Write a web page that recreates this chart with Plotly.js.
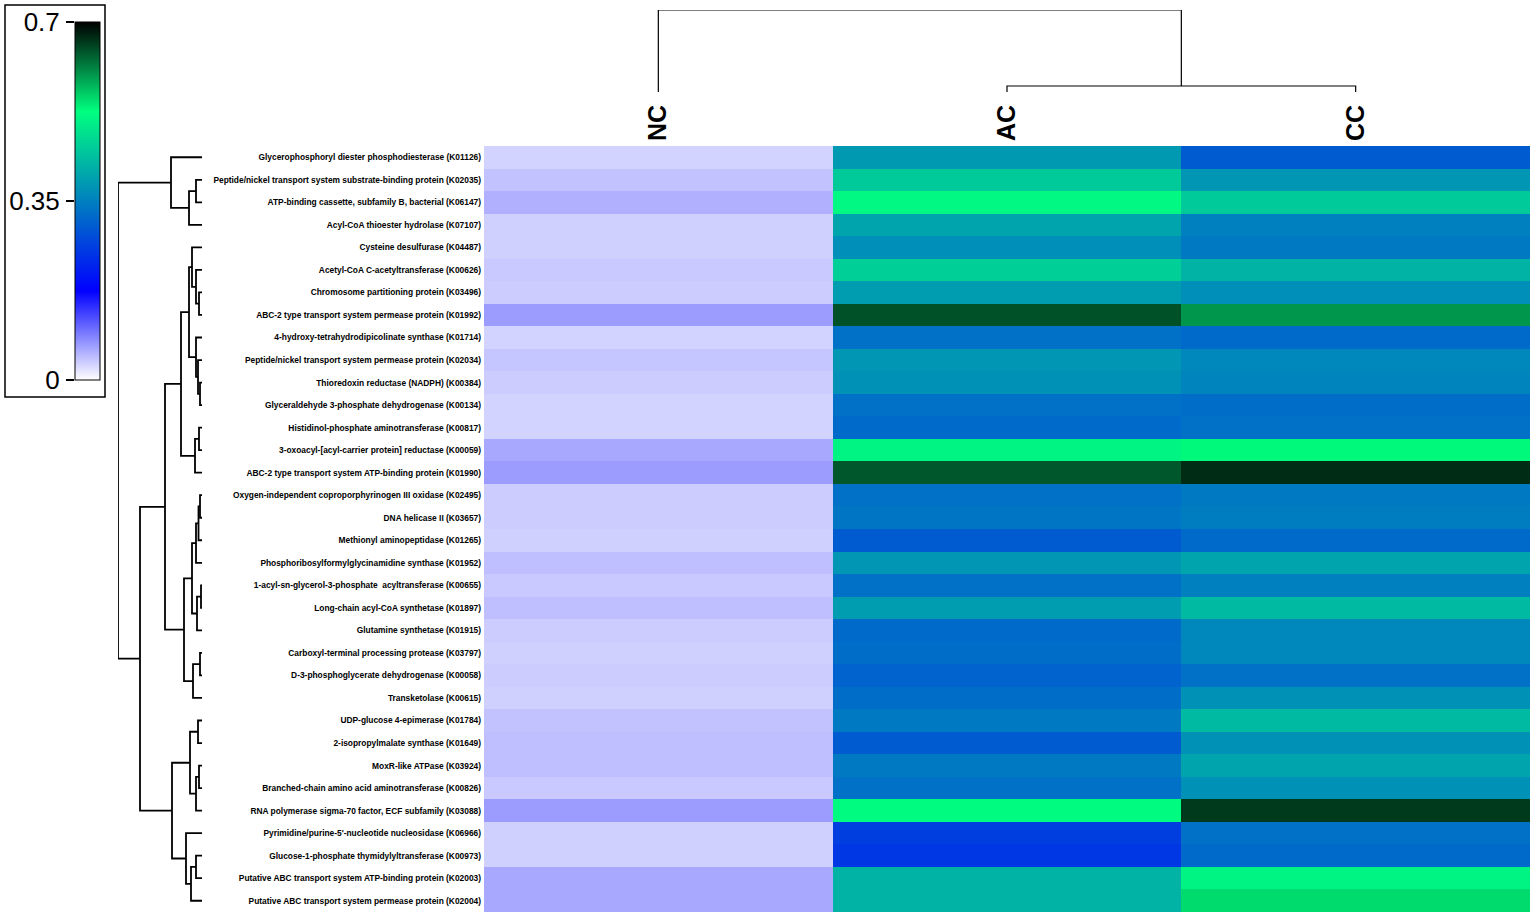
<!DOCTYPE html>
<html>
<head>
<meta charset="utf-8">
<script src="https://cdn.plot.ly/plotly-3.0.1.min.js"></script>
<style>html,body{margin:0;padding:0;background:#fff;}#chart{width:1535px;height:918px;}</style>
</head>
<body>
<div id="chart"></div>
<script>
const rowLabels = [
  "Glycerophosphoryl diester phosphodiesterase (K01126)",
  "Peptide/nickel transport system substrate-binding protein (K02035)",
  "ATP-binding cassette, subfamily B, bacterial (K06147)",
  "Acyl-CoA thioester hydrolase (K07107)",
  "Cysteine desulfurase (K04487)",
  "Acetyl-CoA C-acetyltransferase (K00626)",
  "Chromosome partitioning protein (K03496)",
  "ABC-2 type transport system permease protein (K01992)",
  "4-hydroxy-tetrahydrodipicolinate synthase (K01714)",
  "Peptide/nickel transport system permease protein (K02034)",
  "Thioredoxin reductase (NADPH) (K00384)",
  "Glyceraldehyde 3-phosphate dehydrogenase (K00134)",
  "Histidinol-phosphate aminotransferase (K00817)",
  "3-oxoacyl-[acyl-carrier protein] reductase (K00059)",
  "ABC-2 type transport system ATP-binding protein (K01990)",
  "Oxygen-independent coproporphyrinogen III oxidase (K02495)",
  "DNA helicase II (K03657)",
  "Methionyl aminopeptidase (K01265)",
  "Phosphoribosylformylglycinamidine synthase (K01952)",
  "1-acyl-sn-glycerol-3-phosphate  acyltransferase (K00655)",
  "Long-chain acyl-CoA synthetase (K01897)",
  "Glutamine synthetase (K01915)",
  "Carboxyl-terminal processing protease (K03797)",
  "D-3-phosphoglycerate dehydrogenase (K00058)",
  "Transketolase (K00615)",
  "UDP-glucose 4-epimerase (K01784)",
  "2-isopropylmalate synthase (K01649)",
  "MoxR-like ATPase (K03924)",
  "Branched-chain amino acid aminotransferase (K00826)",
  "RNA polymerase sigma-70 factor, ECF subfamily (K03088)",
  "Pyrimidine/purine-5'-nucleotide nucleosidase (K06966)",
  "Glucose-1-phosphate thymidylyltransferase (K00973)",
  "Putative ABC transport system ATP-binding protein (K02003)",
  "Putative ABC transport system permease protein (K02004)"
];
const colLabels = ["NC", "AC", "CC"];

const ncValues = [0.030,0.042,0.054,0.032,0.032,0.037,0.035,0.068,0.030,0.040,0.035,0.030,0.030,0.060,0.068,0.035,0.035,0.032,0.044,0.037,0.044,0.035,0.032,0.035,0.032,0.042,0.044,0.044,0.037,0.068,0.032,0.032,0.060,0.060];
const acValues = [0.385,0.45,0.515,0.40,0.37,0.46,0.39,0.645,0.33,0.38,0.375,0.33,0.32,0.51,0.64,0.33,0.335,0.30,0.38,0.33,0.39,0.32,0.325,0.31,0.325,0.34,0.30,0.34,0.33,0.52,0.26,0.25,0.42,0.42];
const ccValues = [0.30,0.38,0.45,0.35,0.34,0.42,0.37,0.597,0.32,0.36,0.355,0.325,0.33,0.53,0.67,0.34,0.345,0.32,0.40,0.35,0.43,0.36,0.36,0.33,0.375,0.43,0.375,0.40,0.375,0.66,0.33,0.32,0.51,0.55];

// Row clustering tree: [left, right, mergeHeight]; leaves are row indices
const rowTree = [[0, [[1,2,6],3,13], 31],
  [[[[[4,[5,[6,7,3],6],10],[8,[9,[10,11,2],4],6],13],[[12,13,3],14,7],21],
    [[[[[15,16,2],17,3.5],18,6],[[19,20,1],21,5],10],[[22,23,2],24,9],18],37],
   [[[25,26,4],[[27,28,3],29,6],12],[30,[[31,32,6],33,11],16],30],62],84];
// Column clustering tree
const colTree = [0, [1, 2, 6], 82];

const colorTicks = [0, 0.35, 0.7];
const colorTickText = ["0", "0.35", "0.7"];

const W = 1535, H = 918;
const px = v => v / W;
const py = v => 1 - v / H;

// build dendrogram segments (pos = leaf coordinate, h = height)
function dendro(tree) {
  const segs = {pos: [], h: []};
  function walk(n) {
    if (typeof n === "number") return {p: n, h: 0};
    const a = walk(n[0]), b = walk(n[1]), h = n[2];
    segs.pos.push(a.p, a.p, b.p, b.p, null);
    segs.h.push(a.h, h, h, b.h, null);
    return {p: (a.p + b.p) / 2, h: h};
  }
  walk(tree);
  return segs;
}

const z = rowLabels.map((_, i) => [ncValues[i], acValues[i], ccValues[i]]);
const colorscale = [[0, "#ffffff"], [0.25, "#0000ff"], [0.5, "#0080bf"], [0.75, "#00ff7f"], [1, "#000000"]];

const rd = dendro(rowTree);
const cd = dendro(colTree);

const heat = {
  type: "heatmap", z: z, x: [0, 1, 2], y: rowLabels.map((_, i) => i),
  colorscale: colorscale, zmin: 0, zmax: 0.7, xaxis: "x", yaxis: "y",
  hoverinfo: "z",
  colorbar: {
    x: px(75), xanchor: "left", y: py(22), yanchor: "top",
    len: 358 / H, lenmode: "fraction", thickness: 25, thicknessmode: "pixels",
    xpad: 0, ypad: 0, outlinewidth: 1, outlinecolor: "#000",
    showticklabels: false, ticks: ""
  }
};
const rowDen = {
  type: "scatter", mode: "lines", x: rd.h, y: rd.pos, xaxis: "x2", yaxis: "y2",
  line: {color: "#000", width: 1.8}, hoverinfo: "skip", connectgaps: false
};
const colDen = {
  type: "scatter", mode: "lines", x: cd.pos, y: cd.h, xaxis: "x3", yaxis: "y3",
  line: {color: "#000", width: 1.2}, hoverinfo: "skip", connectgaps: false
};
const cbAxisTrace = {
  type: "scatter", mode: "none", x: [0, 0], y: [0, 0.7], xaxis: "x4", yaxis: "y4", hoverinfo: "skip"
};

const yDomain = [py(912), py(146)];
const layout = {
  width: W, height: H, margin: {l: 0, r: 0, t: 0, b: 0},
  paper_bgcolor: "#fff", plot_bgcolor: "#fff", showlegend: false,
  font: {family: "Liberation Sans, Arial, sans-serif", color: "#000"},
  xaxis: {
    domain: [px(484), px(1530)], range: [-0.5, 2.5], side: "top",
    tickvals: [0, 1, 2], ticktext: colLabels, tickangle: -90, ticks: "",
    tickfont: {size: 25, weight: "bold", family: "Liberation Sans, Arial"},
    showgrid: false, zeroline: false, showline: false, anchor: "y", ticklabelstandoff: 4
  },
  yaxis: {
    domain: yDomain, range: [33.5, -0.5], tickvals: rowLabels.map((_, i) => i),
    ticktext: rowLabels, ticks: "", showgrid: false, zeroline: false, showline: false,
    tickfont: {size: 8.4, weight: "bold", family: "Liberation Sans, Arial"},
    anchor: "x", ticklabelstandoff: 2
  },
  xaxis2: {domain: [px(118), px(202)], range: [84, 0], visible: false, anchor: "y2"},
  yaxis2: {domain: yDomain, range: [33.5, -0.5], visible: false, anchor: "x2"},
  xaxis3: {domain: [px(484), px(1530)], range: [-0.5, 2.5], visible: false, anchor: "y3"},
  yaxis3: {domain: [py(92), py(10)], range: [0, 82], visible: false, anchor: "x3"},
  xaxis4: {domain: [px(75), px(100)], range: [0, 1], visible: false, anchor: "y4"},
  yaxis4: {
    domain: [py(380), py(22)], range: [0, 0.7], anchor: "x4", side: "left",
    tickvals: colorTicks, ticktext: colorTickText, ticks: "outside", ticklen: 8, tickwidth: 1.2,
    tickcolor: "#000", showgrid: false, zeroline: false, showline: false,
    tickfont: {size: 26, family: "Liberation Sans, Arial"}, ticklabelstandoff: 1
  },
  shapes: [{
    type: "rect", xref: "paper", yref: "paper",
    x0: px(5), x1: px(105), y0: py(397), y1: py(5),
    line: {color: "#000", width: 1.5}
  }]
};

Plotly.newPlot("chart", [heat, rowDen, colDen, cbAxisTrace], layout, {displayModeBar: false, staticPlot: true});
</script>
</body>
</html>
